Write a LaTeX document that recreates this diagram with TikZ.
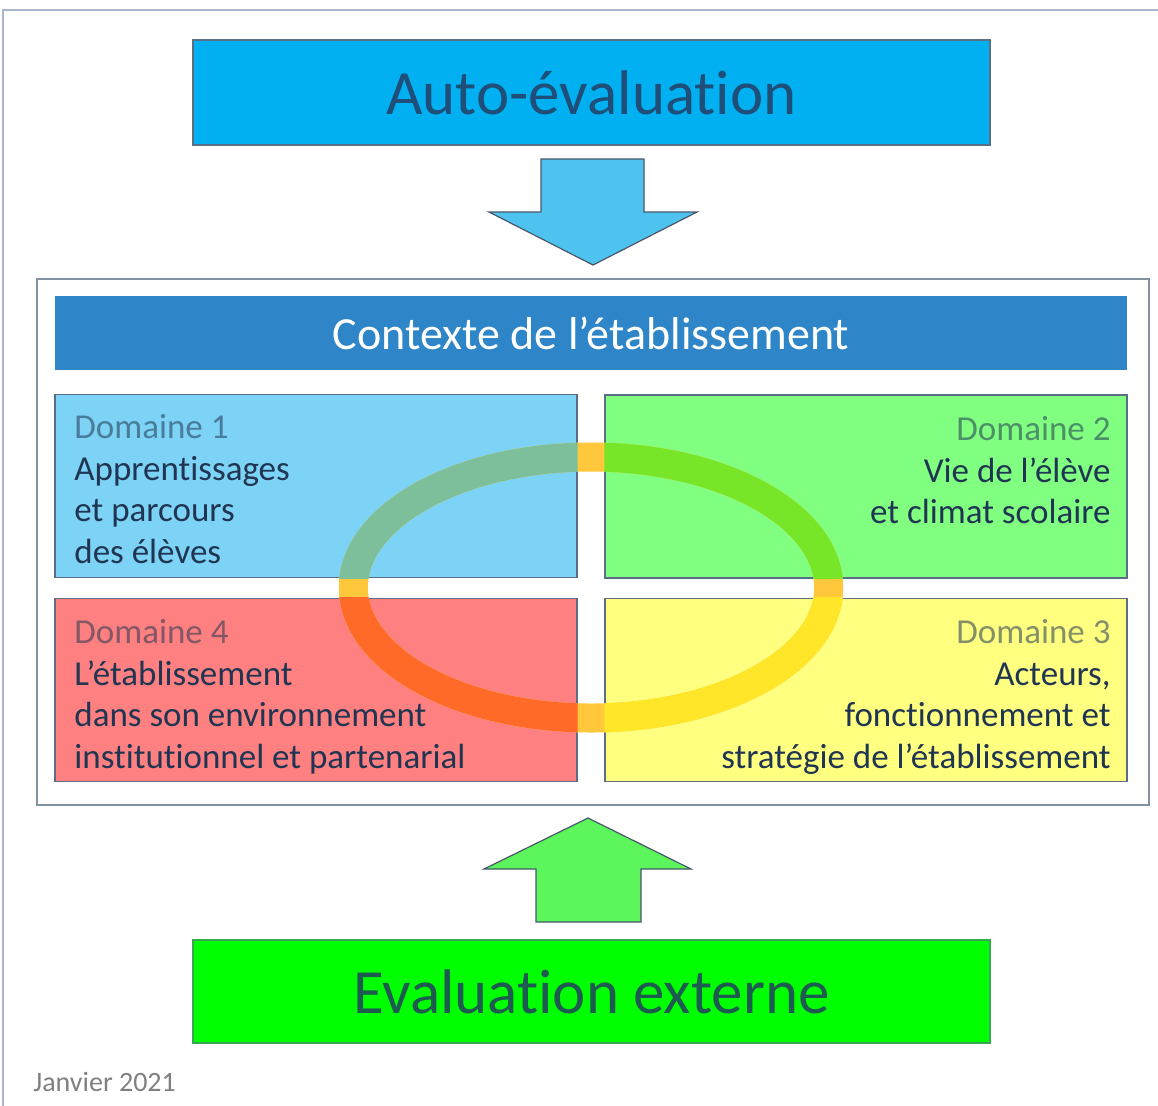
\documentclass[tikz,border=0pt]{standalone}
\usepackage{fontspec}
\setmainfont{Carlito}[Ligatures=NoCommon]
\usepackage{xcolor}
\definecolor{autoblue}{HTML}{00B0F0}
\definecolor{arrowblue}{HTML}{4FC3F0}
\definecolor{ctxblue}{HTML}{2E86C8}
\definecolor{dom1}{HTML}{7DD3F5}
\definecolor{dom2}{HTML}{80FF80}
\definecolor{dom3}{HTML}{FFFF80}
\definecolor{dom4}{HTML}{FF8080}
\definecolor{extgreen}{HTML}{00FF00}
\definecolor{arrowgreen}{HTML}{5CF55C}
\definecolor{txtnavy}{HTML}{1F3552}
\definecolor{autotxt}{HTML}{1F4E79}
\definecolor{exttxt}{HTML}{1D5A50}
\definecolor{ringgap}{HTML}{FFC83C}
\definecolor{ring1}{HTML}{7DBF9A}
\definecolor{ring2}{HTML}{78E628}
\definecolor{ring3}{HTML}{FFE628}
\definecolor{ring4}{HTML}{FF6A28}
\definecolor{edgegray}{HTML}{5A6E85}
\definecolor{pagegray}{HTML}{A8B8CA}
\usetikzlibrary{positioning}
\tikzset{
	box/.style={draw=edgegray, line width=0.6pt, inner sep=0pt},
	dombox/.style={box, minimum width=261pt, minimum height=91.5pt},
	domtxt/.style={inner sep=0pt, font=\fontsize{17.5}{20.75}\selectfont, text=txtnavy},
	ring/.style={line width=14.5pt},
	bigarrow/.style={draw=edgegray!80!black, line width=0.6pt, line join=miter},
}

\begin{document}
\begin{tikzpicture}[x=0.5pt, y=-0.5pt]
		\useasboundingbox (0,0) rectangle (1158,1105);
		\fill[white] (0,0) rectangle (1158,1105);
		\begin{scope}
			\clip (0,0) rectangle (1158,1105);
			\draw[pagegray, line width=0.8pt] (3,10) rectangle (1200,1150);
		\end{scope}
		\node[box, fill=autoblue, minimum width=398.5pt, minimum height=52.5pt, text=autotxt, font=\fontsize{31.5}{36}\selectfont] (auto) at (591.5,92.5) {Auto-évaluation};
		\draw[bigarrow, fill=arrowblue] (541,159) -- (644,159) -- (644,212) -- (697,212) -- (593,265) -- (489,212) -- (541,212) -- cycle;
		\draw[edgegray!75, line width=0.8pt] (37,279) rectangle (1149,805);
		\node[box, fill=ctxblue, draw=none, minimum width=536pt, minimum height=37pt, text=white, font=\fontsize{23}{27}\selectfont] (ctx) at (591,333) {Contexte de l’établissement};
		\node[dombox, fill=dom1] (d1) at (316,486) {};
		\node[dombox, fill=dom2] (d2) at (866,486.5) {};
		\node[dombox, fill=dom4] (d4) at (316,690) {};
		\node[dombox, fill=dom3] (d3) at (866,690) {};
		\draw[ring, ringgap] (591,587.5) ellipse [x radius=237.7, y radius=130.5];
		\foreach \d/\c in {d1/ring1, d2/ring2, d3/ring3, d4/ring4}{
			\begin{scope}
				\clip (\d.north west) rectangle (\d.south east);
				\draw[ring, \c] (591,587.5) ellipse [x radius=237.7, y radius=130.5];
			\end{scope}
		}
		\node[domtxt, anchor=north west, align=left] (t1) at (74,414.5) {{\color{txtnavy!55!dom1}Domaine 1}\\Apprentissages\\et parcours\\des élèves};
		\node[domtxt, anchor=north east, align=right] (t2) at (1111,416.5) {{\color{txtnavy!55!dom2}Domaine 2}\\Vie de l’élève\\et climat scolaire};
		\node[domtxt, anchor=north east, align=right] (t3) at (1111,619.5) {{\color{txtnavy!55!dom3}Domaine 3}\\Acteurs,\\fonctionnement et\\stratégie de l’établissement};
		\node[domtxt, anchor=north west, align=left] (t4) at (74,619.5) {{\color{txtnavy!55!dom4}Domaine 4}\\L’établissement\\dans son environnement\\institutionnel et partenarial};
		\draw[bigarrow, fill=arrowgreen] (588,818) -- (691,869) -- (641,869) -- (641,922) -- (536,922) -- (536,869) -- (484,869) -- cycle;
		\node[box, fill=extgreen, draw=edgegray!60!green, minimum width=398.5pt, minimum height=51.5pt, text=exttxt, font=\fontsize{31.5}{36}\selectfont] (ext) at (591.5,991.5) {Evaluation externe};
		\node[anchor=west, inner sep=0pt, text=black!50, font=\fontsize{14}{16}\selectfont] (date) at (33,1082) {Janvier 2021};
	\end{tikzpicture}
\end{document}
